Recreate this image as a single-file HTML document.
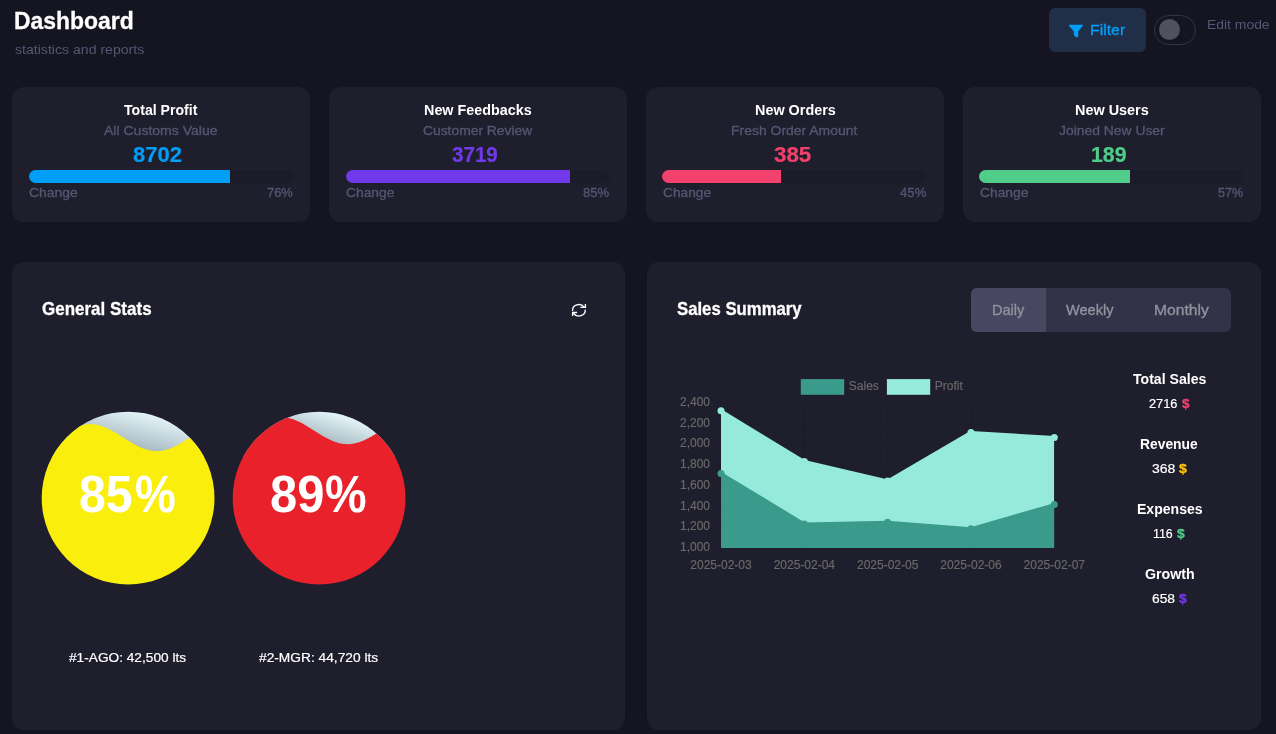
<!DOCTYPE html>
<html lang="en"><head><meta charset="utf-8"><title>Dashboard</title>
<style>html,body{margin:0;padding:0}
body{width:1276px;height:734px;overflow:hidden;background:#151521;font-family:"Liberation Sans", sans-serif;position:relative;color:#fff}
.card{position:absolute;background:#1e1e2d;border-radius:12px}
.t{position:absolute;white-space:nowrap;line-height:1;transform-origin:0 0}
.sw{-webkit-text-stroke:0.32px currentColor}
.sb{-webkit-text-stroke:0.3px currentColor}
.sl{-webkit-text-stroke:0.2px currentColor}
.track{position:absolute;height:13px;width:264px;border-radius:6.5px;background:#1b1b29;overflow:hidden}
.track i{display:block;height:100%}
.btn{position:absolute;border-radius:6px}
svg{position:absolute;overflow:visible}
</style></head><body>
<div class="card" style="left:12px;top:87px;width:298px;height:135px"></div>
<div class="card" style="left:329px;top:87px;width:298px;height:135px"></div>
<div class="card" style="left:646px;top:87px;width:298px;height:135px"></div>
<div class="card" style="left:963px;top:87px;width:298px;height:135px"></div>
<div class="card" style="left:12px;top:262px;width:613px;height:468px"></div>
<div class="card" style="left:647px;top:262px;width:614px;height:468px"></div>
<div class="track" style="left:29px;top:170px"><i style="width:76%;background:#009ef7"></i></div>
<div class="track" style="left:345.5px;top:170px"><i style="width:85%;background:#7239ea"></i></div>
<div class="track" style="left:662.3px;top:170px"><i style="width:45%;background:#f1416c"></i></div>
<div class="track" style="left:979.3px;top:170px"><i style="width:57%;background:#50cd89"></i></div>
<div class="btn" style="left:1049px;top:8px;width:97px;height:44px;background:#212e48"></div>
<svg style="left:1068px;top:24px" width="16" height="14" viewBox="1068 24 16 14"><path fill="#009ef7" d="M1069.6 24.8 H1082.2 Q1083.5 24.8 1082.7 25.9 L1078.3 31.2 V35.7 Q1078.3 36.5 1077.6 36.9 L1077.0 37.15 Q1076.5 37.3 1076.0 36.9 L1074.2 35.4 Q1073.8 35.1 1073.8 34.5 V31.2 L1069.1 25.9 Q1068.3 24.8 1069.6 24.8 Z"/></svg>
<div style="position:absolute;left:1154px;top:15px;width:40px;height:28px;border:1px solid #323248;border-radius:15px"></div>
<div style="position:absolute;left:1158.6px;top:19.1px;width:21px;height:21px;border-radius:50%;background:#50505f"></div>
<div style="position:absolute;left:971px;top:288px;width:260px;height:44px;border-radius:6px;background:#323248;overflow:hidden"><div style="width:75px;height:44px;background:#474761"></div></div>
<svg style="left:0;top:0" width="1276" height="734" viewBox="0 0 1276 734" fill="none" stroke="#ffffff" stroke-width="1.35" stroke-linecap="butt" stroke-linejoin="miter"><path d="M572.63 310.90 A6.3 5.7 0 0 1 584.12 307.11 L585.0 307.2"/><polyline points="585.4,303.9 585.4,307.4 580.4,307.4"/><path d="M585.17 309.70 A6.3 5.7 0 0 1 573.68 313.49 L572.9 312.8"/><polyline points="572.6,316.0 572.6,312.5 577.1,312.5"/></svg>
<svg style="left:0;top:0" width="1276" height="734" viewBox="0 0 1276 734">
<defs><linearGradient id="g1" gradientUnits="userSpaceOnUse" x1="135.1" y1="411.5" x2="125.1" y2="451.5"><stop offset="0" stop-color="#e2f3f8"/><stop offset="1" stop-color="#9eafb6"/></linearGradient><linearGradient id="g2" gradientUnits="userSpaceOnUse" x1="326.1" y1="411.5" x2="316.1" y2="444.5"><stop offset="0" stop-color="#e2f3f8"/><stop offset="1" stop-color="#9eafb6"/></linearGradient><clipPath id="cc"><rect x="721" y="395" width="333.3" height="153"/></clipPath><clipPath id="c1"><circle cx="128.1" cy="498.1" r="86.4"/></clipPath><clipPath id="c2"><circle cx="319.1" cy="498.1" r="86.4"/></clipPath></defs>
<g clip-path="url(#c1)"><rect x="41.099999999999994" y="411" width="174" height="46" fill="url(#g1)"/><path d="M38.1,448.07 L40.1,447.22 L42.1,446.28 L44.1,445.27 L46.1,444.19 L48.1,443.04 L50.1,441.85 L52.1,440.62 L54.1,439.37 L56.1,438.10 L58.1,436.82 L60.1,435.56 L62.1,434.31 L64.1,433.09 L66.1,431.91 L68.1,430.78 L70.1,429.71 L72.1,428.71 L74.1,427.80 L76.1,426.97 L78.1,426.23 L80.1,425.60 L82.1,425.07 L84.1,424.66 L86.1,424.36 L88.1,424.18 L90.1,424.12 L92.1,424.18 L94.1,424.36 L96.1,424.66 L98.1,425.07 L100.1,425.60 L102.1,426.23 L104.1,426.97 L106.1,427.80 L108.1,428.71 L110.1,429.71 L112.1,430.78 L114.1,431.91 L116.1,433.09 L118.1,434.31 L120.1,435.56 L122.1,436.82 L124.1,438.10 L126.1,439.37 L128.1,440.62 L130.1,441.85 L132.1,443.04 L134.1,444.19 L136.1,445.27 L138.1,446.28 L140.1,447.22 L142.1,448.07 L144.1,448.83 L146.1,449.49 L148.1,450.05 L150.1,450.49 L152.1,450.82 L154.1,451.03 L156.1,451.12 L158.1,451.09 L160.1,450.94 L162.1,450.67 L164.1,450.28 L166.1,449.78 L168.1,449.18 L170.1,448.47 L172.1,447.66 L174.1,446.76 L176.1,445.79 L178.1,444.73 L180.1,443.62 L182.1,442.45 L184.1,441.24 L186.1,440.00 L188.1,438.73 L190.1,437.46 L192.1,436.19 L194.1,434.93 L196.1,433.69 L198.1,432.49 L200.1,431.34 L202.1,430.24 L204.1,429.20 L206.1,428.24 L208.1,427.37 L210.1,426.59 L212.1,425.90 L214.1,425.32 L216.1,424.85 L218.1,424.49 L218.1,600 L38.099999999999994,600 Z" fill="#faee0d"/></g>
<g clip-path="url(#c2)"><rect x="232.10000000000002" y="411" width="174" height="46" fill="url(#g2)"/><path d="M229.1,441.16 L231.1,440.31 L233.1,439.37 L235.1,438.36 L237.1,437.27 L239.1,436.13 L241.1,434.94 L243.1,433.71 L245.1,432.46 L247.1,431.19 L249.1,429.91 L251.1,428.64 L253.1,427.39 L255.1,426.17 L257.1,424.99 L259.1,423.87 L261.1,422.80 L263.1,421.80 L265.1,420.88 L267.1,420.05 L269.1,419.32 L271.1,418.69 L273.1,418.16 L275.1,417.75 L277.1,417.45 L279.1,417.27 L281.1,417.21 L283.1,417.27 L285.1,417.45 L287.1,417.75 L289.1,418.16 L291.1,418.69 L293.1,419.32 L295.1,420.05 L297.1,420.88 L299.1,421.80 L301.1,422.80 L303.1,423.87 L305.1,424.99 L307.1,426.17 L309.1,427.39 L311.1,428.64 L313.1,429.91 L315.1,431.19 L317.1,432.46 L319.1,433.71 L321.1,434.94 L323.1,436.13 L325.1,437.27 L327.1,438.36 L329.1,439.37 L331.1,440.31 L333.1,441.16 L335.1,441.92 L337.1,442.58 L339.1,443.13 L341.1,443.58 L343.1,443.90 L345.1,444.11 L347.1,444.20 L349.1,444.17 L351.1,444.02 L353.1,443.75 L355.1,443.37 L357.1,442.87 L359.1,442.26 L361.1,441.55 L363.1,440.75 L365.1,439.85 L367.1,438.87 L369.1,437.82 L371.1,436.71 L373.1,435.54 L375.1,434.33 L377.1,433.09 L379.1,431.82 L381.1,430.55 L383.1,429.28 L385.1,428.02 L387.1,426.78 L389.1,425.58 L391.1,424.42 L393.1,423.32 L395.1,422.29 L397.1,421.33 L399.1,420.46 L401.1,419.67 L403.1,418.99 L405.1,418.41 L407.1,417.94 L409.1,417.58 L409.1,600 L229.10000000000002,600 Z" fill="#e8212b"/></g>
<line x1="713.0" y1="403.50" x2="1054.3" y2="403.50" stroke="#1b1b29" stroke-width="1"/><line x1="713.0" y1="424.50" x2="1054.3" y2="424.50" stroke="#1b1b29" stroke-width="1"/><line x1="713.0" y1="444.50" x2="1054.3" y2="444.50" stroke="#1b1b29" stroke-width="1"/><line x1="713.0" y1="465.50" x2="1054.3" y2="465.50" stroke="#1b1b29" stroke-width="1"/><line x1="713.0" y1="486.50" x2="1054.3" y2="486.50" stroke="#1b1b29" stroke-width="1"/><line x1="713.0" y1="507.50" x2="1054.3" y2="507.50" stroke="#1b1b29" stroke-width="1"/><line x1="713.0" y1="527.50" x2="1054.3" y2="527.50" stroke="#1b1b29" stroke-width="1"/><line x1="713.0" y1="547.50" x2="1054.3" y2="547.50" stroke="#1b1b29" stroke-width="1"/><line x1="721.00" y1="403.1" x2="721.00" y2="555.5" stroke="#1b1b29" stroke-width="1"/><line x1="804.33" y1="403.1" x2="804.33" y2="555.5" stroke="#1b1b29" stroke-width="1"/><line x1="887.65" y1="403.1" x2="887.65" y2="555.5" stroke="#1b1b29" stroke-width="1"/><line x1="970.97" y1="403.1" x2="970.97" y2="555.5" stroke="#1b1b29" stroke-width="1"/><line x1="1054.30" y1="403.1" x2="1054.30" y2="555.5" stroke="#1b1b29" stroke-width="1"/><g clip-path="url(#cc)"><polygon points="721.00,548 721.00,410.73 804.33,461.58 887.65,481.08 970.97,432.39 1054.30,437.55 1054.30,548" fill="#95eadc"/><polyline points="721.00,410.73 804.33,461.58 887.65,481.08 970.97,432.39 1054.30,437.55" fill="none" stroke="#95eadc" stroke-width="3" stroke-linejoin="round"/></g><circle cx="721.00" cy="410.73" r="3.5" fill="#95eadc"/><circle cx="804.33" cy="461.58" r="3.5" fill="#95eadc"/><circle cx="887.65" cy="481.08" r="3.5" fill="#95eadc"/><circle cx="970.97" cy="432.39" r="3.5" fill="#95eadc"/><circle cx="1054.30" cy="437.55" r="3.5" fill="#95eadc"/><g clip-path="url(#cc)"><polygon points="721.00,548 721.00,473.44 804.33,523.98 887.65,522.13 970.97,528.73 1054.30,504.59 1054.30,548" fill="#3a9a8b"/><polyline points="721.00,473.44 804.33,523.98 887.65,522.13 970.97,528.73 1054.30,504.59" fill="none" stroke="#3a9a8b" stroke-width="3" stroke-linejoin="round"/></g><circle cx="721.00" cy="473.44" r="3.5" fill="#3a9a8b"/><circle cx="804.33" cy="523.98" r="3.5" fill="#3a9a8b"/><circle cx="887.65" cy="522.13" r="3.5" fill="#3a9a8b"/><circle cx="970.97" cy="528.73" r="3.5" fill="#3a9a8b"/><circle cx="1054.30" cy="504.59" r="3.5" fill="#3a9a8b"/>
<rect x="800.8" y="379.1" width="43.4" height="15.7" fill="#3a9a8b"/><rect x="886.9" y="379.1" width="43.3" height="15.7" fill="#95eadc"/>
</svg>
<svg style="left:0;top:0;will-change:transform" width="1276" height="734" viewBox="0 0 1276 734"><g font-family='"Liberation Sans", sans-serif' font-size="12" fill="#6a6a6a" stroke="#6a6a6a" stroke-width="0.15"><text x="848.8" y="389.9">Sales</text><text x="934.8" y="389.9">Profit</text><text x="710" y="406.00" text-anchor="end">2,400</text><text x="710" y="426.71" text-anchor="end">2,200</text><text x="710" y="447.43" text-anchor="end">2,000</text><text x="710" y="468.14" text-anchor="end">1,800</text><text x="710" y="488.86" text-anchor="end">1,600</text><text x="710" y="509.57" text-anchor="end">1,400</text><text x="710" y="530.28" text-anchor="end">1,200</text><text x="710" y="551.00" text-anchor="end">1,000</text><text x="721.00" y="569.4" text-anchor="middle">2025-02-03</text><text x="804.33" y="569.4" text-anchor="middle">2025-02-04</text><text x="887.65" y="569.4" text-anchor="middle">2025-02-05</text><text x="970.97" y="569.4" text-anchor="middle">2025-02-06</text><text x="1054.30" y="569.4" text-anchor="middle">2025-02-07</text></g></svg>
<div class="t sb" style="left:14.11px;top:9.00px;font-size:24.30px;font-weight:700;color:#ffffff;transform:scaleX(0.9427)">Dashboard</div>
<div class="t" style="left:14.90px;top:43.40px;font-size:13.39px;font-weight:400;color:#565674;transform:scaleX(1.0539)">statistics and reports</div>
<div class="t sw" style="left:1090.36px;top:22.90px;font-size:14.42px;font-weight:400;color:#009ef7;transform:scaleX(1.0982)">Filter</div>
<div class="t" style="left:1207.26px;top:18.10px;font-size:13.39px;font-weight:400;color:#565674;transform:scaleX(1.0394)">Edit mode</div>
<div class="t" style="left:124.40px;top:102.60px;font-size:14.42px;font-weight:700;color:#ffffff;transform:scaleX(0.9793)">Total Profit</div>
<div class="t" style="left:424.10px;top:102.60px;font-size:14.42px;font-weight:700;color:#ffffff;transform:scaleX(0.9974)">New Feedbacks</div>
<div class="t" style="left:754.60px;top:102.60px;font-size:14.42px;font-weight:700;color:#ffffff;transform:scaleX(0.9993)">New Orders</div>
<div class="t" style="left:1074.90px;top:102.60px;font-size:14.42px;font-weight:700;color:#ffffff;transform:scaleX(1.0006)">New Users</div>
<div class="t sw" style="left:104.46px;top:124.20px;font-size:13.39px;font-weight:400;color:#565674;transform:scaleX(1.0486)">All Customs Value</div>
<div class="t sw" style="left:423.46px;top:124.20px;font-size:13.39px;font-weight:400;color:#565674;transform:scaleX(1.0349)">Customer Review</div>
<div class="t sw" style="left:730.62px;top:124.20px;font-size:13.39px;font-weight:400;color:#565674;transform:scaleX(1.0428)">Fresh Order Amount</div>
<div class="t sw" style="left:1058.96px;top:124.20px;font-size:13.39px;font-weight:400;color:#565674;transform:scaleX(1.0380)">Joined New User</div>
<div class="t sl" style="left:133.10px;top:144.90px;font-size:21.40px;font-weight:700;color:#009ef7;transform:scaleX(1.0296)">8702</div>
<div class="t sl" style="left:452.00px;top:144.90px;font-size:21.40px;font-weight:700;color:#7239ea;transform:scaleX(0.9625)">3719</div>
<div class="t sl" style="left:773.50px;top:144.90px;font-size:21.40px;font-weight:700;color:#f1416c;transform:scaleX(1.0449)">385</div>
<div class="t sl" style="left:1090.81px;top:144.90px;font-size:21.40px;font-weight:700;color:#50cd89;transform:scaleX(0.9945)">189</div>
<div class="t sw" style="left:28.96px;top:185.60px;font-size:13.60px;font-weight:400;color:#565674;transform:scaleX(1.0217)">Change</div>
<div class="t sw" style="left:345.96px;top:185.60px;font-size:13.60px;font-weight:400;color:#565674;transform:scaleX(1.0175)">Change</div>
<div class="t sw" style="left:662.96px;top:185.60px;font-size:13.60px;font-weight:400;color:#565674;transform:scaleX(1.0111)">Change</div>
<div class="t sw" style="left:979.96px;top:185.60px;font-size:13.60px;font-weight:400;color:#565674;transform:scaleX(1.0175)">Change</div>
<div class="t sw" style="left:266.76px;top:185.60px;font-size:13.60px;font-weight:400;color:#565674;transform:scaleX(0.9506)">76%</div>
<div class="t sw" style="left:583.46px;top:185.60px;font-size:13.60px;font-weight:400;color:#565674;transform:scaleX(0.9616)">85%</div>
<div class="t sw" style="left:899.96px;top:185.60px;font-size:13.60px;font-weight:400;color:#565674;transform:scaleX(0.9690)">45%</div>
<div class="t sw" style="left:1218.26px;top:185.60px;font-size:13.60px;font-weight:400;color:#565674;transform:scaleX(0.9211)">57%</div>
<div class="t sb" style="left:42.05px;top:300.20px;font-size:18.54px;font-weight:700;color:#ffffff;transform:scaleX(0.9172)">General Stats</div>
<div class="t sl" style="left:68.70px;top:651.20px;font-size:13.39px;font-weight:400;color:#ffffff;transform:scaleX(1.0226)">#1-AGO: 42,500 lts</div>
<div class="t sl" style="left:259.00px;top:651.20px;font-size:13.39px;font-weight:400;color:#ffffff;transform:scaleX(1.0277)">#2-MGR: 44,720 lts</div>
<div class="t" style="left:78.96px;top:469.20px;font-size:51.20px;font-weight:700;color:#ffffff;transform:scaleX(0.9411)">85</div>
<div class="t" style="left:134.50px;top:469.20px;font-size:51.20px;font-weight:700;color:#ffffff;transform:scaleX(0.8977)">%</div>
<div class="t" style="left:269.54px;top:469.20px;font-size:51.20px;font-weight:700;color:#ffffff;transform:scaleX(0.9565)">89</div>
<div class="t" style="left:324.99px;top:469.20px;font-size:51.20px;font-weight:700;color:#ffffff;transform:scaleX(0.9136)">%</div>
<div class="t sb" style="left:677.05px;top:300.20px;font-size:18.54px;font-weight:700;color:#ffffff;transform:scaleX(0.9032)">Sales Summary</div>
<div class="t sw" style="left:991.65px;top:303.10px;font-size:14.40px;font-weight:400;color:#92929f;transform:scaleX(1.0123)">Daily</div>
<div class="t sw" style="left:1066.16px;top:303.10px;font-size:14.40px;font-weight:400;color:#92929f;transform:scaleX(1.0138)">Weekly</div>
<div class="t sw" style="left:1154.37px;top:303.10px;font-size:14.40px;font-weight:400;color:#92929f;transform:scaleX(1.0874)">Monthly</div>
<div class="t" style="left:1132.90px;top:371.80px;font-size:14.42px;font-weight:700;color:#ffffff;transform:scaleX(0.9776)">Total Sales</div>
<div class="t sl" style="left:1149.10px;top:396.60px;font-size:13.39px;font-weight:400;color:#ffffff;transform:scaleX(0.9551)">2716</div>
<div class="t sb" style="left:1182.05px;top:396.70px;font-size:13.70px;font-weight:700;color:#f1416c;transform:scaleX(0.9875)">$</div>
<div class="t" style="left:1140.40px;top:436.80px;font-size:14.42px;font-weight:700;color:#ffffff;transform:scaleX(0.9610)">Revenue</div>
<div class="t sl" style="left:1151.90px;top:461.60px;font-size:13.39px;font-weight:400;color:#ffffff;transform:scaleX(1.0468)">368</div>
<div class="t sb" style="left:1179.35px;top:461.70px;font-size:13.70px;font-weight:700;color:#ffc700;transform:scaleX(1.0250)">$</div>
<div class="t" style="left:1136.50px;top:501.80px;font-size:14.42px;font-weight:700;color:#ffffff;transform:scaleX(0.9754)">Expenses</div>
<div class="t sl" style="left:1153.07px;top:526.60px;font-size:13.39px;font-weight:400;color:#ffffff;transform:scaleX(0.9254)">116</div>
<div class="t sb" style="left:1177.15px;top:526.70px;font-size:13.70px;font-weight:700;color:#50cd89;transform:scaleX(1.0125)">$</div>
<div class="t" style="left:1145.00px;top:566.80px;font-size:14.42px;font-weight:700;color:#ffffff;transform:scaleX(0.9856)">Growth</div>
<div class="t sl" style="left:1151.90px;top:591.60px;font-size:13.39px;font-weight:400;color:#ffffff;transform:scaleX(1.0330)">658</div>
<div class="t sb" style="left:1179.05px;top:591.70px;font-size:13.70px;font-weight:700;color:#7239ea;transform:scaleX(1.0000)">$</div>
</body></html>
